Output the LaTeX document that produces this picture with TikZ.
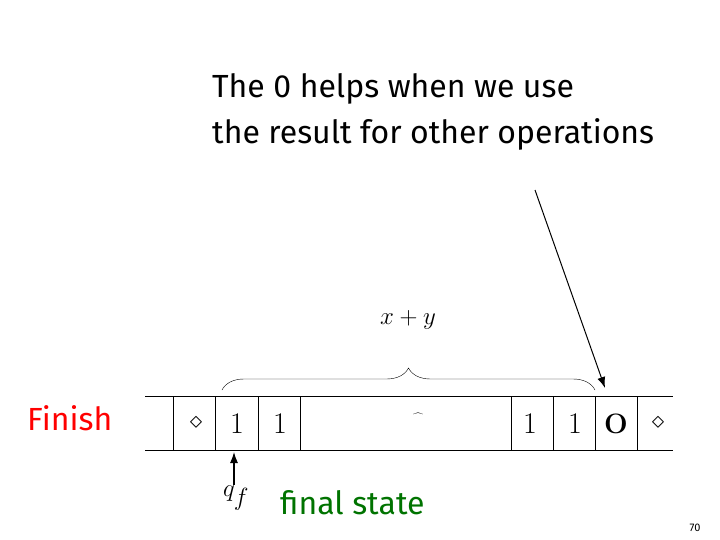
\documentclass[tikz,border=0pt]{standalone}
\usepackage{fontspec}
\setsansfont{Fira Sans}
\usetikzlibrary{decorations.pathreplacing,arrows.meta}
\begin{document}
\begin{tikzpicture}[x=1pt,y=-1pt,
  lbl/.style={font=\sffamily\fontsize{32}{40}\selectfont,anchor=west,inner sep=0},
  cell/.style={font=\fontsize{30}{30}\selectfont,inner sep=0}]
\useasboundingbox (0,0) rectangle (720,540);
\draw (145,396) -- (673,396) (145,450) -- (673,450);
\foreach \x in {173,215,258,300,511,553,595,637} \draw (\x,396) -- (\x,450);
\node[cell] (d1) at (196,423) {$\diamond$};
\node[cell] (c1) at (237,424) {1};
\node[cell] (c2) at (280,424) {1};
\node[cell] (h) at (418,420) {$\widehat{\phantom{x}}$};
\node[cell] (c3) at (530,424) {1};
\node[cell] (c4) at (575,424) {1};
\node[cell,font=\bfseries\fontsize{28}{28}\selectfont] (z) at (616,424) {O};
\node[cell] (d2) at (658,423) {$\diamond$};
\draw[decorate,decoration={brace,amplitude=22pt}] (222,390) -- (595,390);
\node[font=\fontsize{33}{33}\selectfont] (xy) at (408,320) {$x+y$};
\node[lbl] (t1) at (212,89) {The 0 helps when we use};
\node[lbl] (t2) at (212,134) {the result for other operations};
\coordinate (s) at (535,190);
\draw[-{Latex[length=11pt,width=8pt]},line width=1pt] (s) -- (605,388);
\node[lbl,text=red] (fin) at (27,418) {Finish};
\node[font=\fontsize{33}{33}\selectfont] (q) at (236,498) {$q_f$};
\draw[-{Latex[length=11pt,width=8pt]},line width=1.2pt] (234,485) -- (234,452);
\node[lbl,text=green!45!black] (fs) at (280,503) {final state};
\node[font=\sffamily\fontsize{11}{11}\selectfont] (pg) at (695,528) {70};
\end{tikzpicture}
\end{document}
